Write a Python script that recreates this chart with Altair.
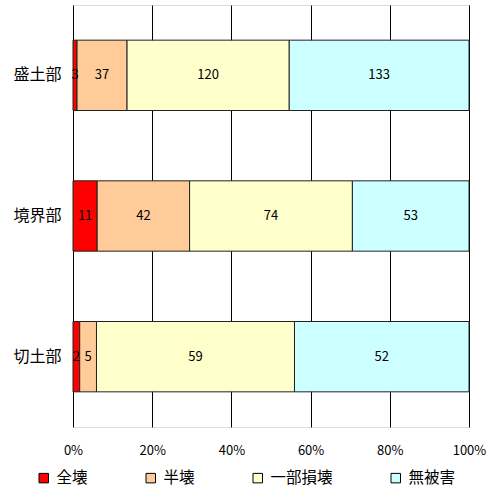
import altair as alt
import pandas as pd

# Damage counts per embankment section
sections = ["盛土部", "境界部", "切土部"]
damage_types = ["全壊", "半壊", "一部損壊", "無被害"]
colors = ["#FF0000", "#FFCC99", "#FFFFCC", "#CCFFFF"]

counts = {
    "盛土部": [3, 37, 120, 133],
    "境界部": [11, 42, 74, 53],
    "切土部": [2, 5, 59, 52],
}

rows = []
for s in sections:
    for i, (t, v) in enumerate(zip(damage_types, counts[s])):
        rows.append({"section": s, "damage": t, "ord": i, "count": v})
df = pd.DataFrame(rows)

FONT = "Noto Sans CJK JP"

base = alt.Chart(df).transform_stack(
    stack="count",
    groupby=["section"],
    as_=["v1", "v2"],
    offset="normalize",
    sort=[alt.SortField("ord", order="ascending")],
).transform_calculate(mid="(datum.v1 + datum.v2) / 2")

y_enc = alt.Y(
    "section:N",
    sort=sections,
    title=None,
    scale=alt.Scale(paddingInner=0.5, paddingOuter=0.25),
    axis=alt.Axis(
        ticks=False,
        domain=False,
        labelFontSize=16,
        labelFont=FONT,
        labelColor="#000",
        labelPadding=12,
        minExtent=68,
        maxExtent=68,
    ),
)

bars = base.mark_bar(stroke="#222", strokeWidth=1).encode(
    x=alt.X(
        "v1:Q",
        scale=alt.Scale(domain=[0, 1]),
        title=None,
        axis=alt.Axis(
            format="%",
            values=[0, 0.2, 0.4, 0.6, 0.8, 1.0],
            ticks=False,
            domain=False,
            grid=True,
            gridColor="#000",
            gridWidth=1,
            labelFlush=False,
            labelFontSize=13,
            labelFont=FONT,
            labelColor="#000",
            labelPadding=17,
        ),
    ),
    x2="v2:Q",
    y=y_enc,
    fill=alt.Fill(
        "damage:N",
        scale=alt.Scale(domain=damage_types, range=colors),
        legend=alt.Legend(
            title=None,
            orient="none",
            direction="horizontal",
            legendX=-37,
            legendY=465,
            symbolType="square",
            symbolSize=90,
            symbolStrokeColor="#000",
            symbolStrokeWidth=1,
            labelFontSize=15.5,
            labelFont=FONT,
            labelColor="#000",
            labelOffset=5,
            columnPadding=55,
        ),
    ),
)

labels = base.mark_text(fontSize=13, font=FONT, color="#000").encode(
    x="mid:Q",
    y=alt.Y("section:N", sort=sections),
    text="count:Q",
)

chart = (
    alt.layer(bars, labels)
    .properties(width=396, height=422, padding={"left": 5, "top": 5, "right": 0, "bottom": 0})
    .configure_view(stroke="#000", strokeWidth=1.5)
    .configure(background="white")
)

chart.save("out.html", embed_options={"renderer": "svg", "actions": False})
